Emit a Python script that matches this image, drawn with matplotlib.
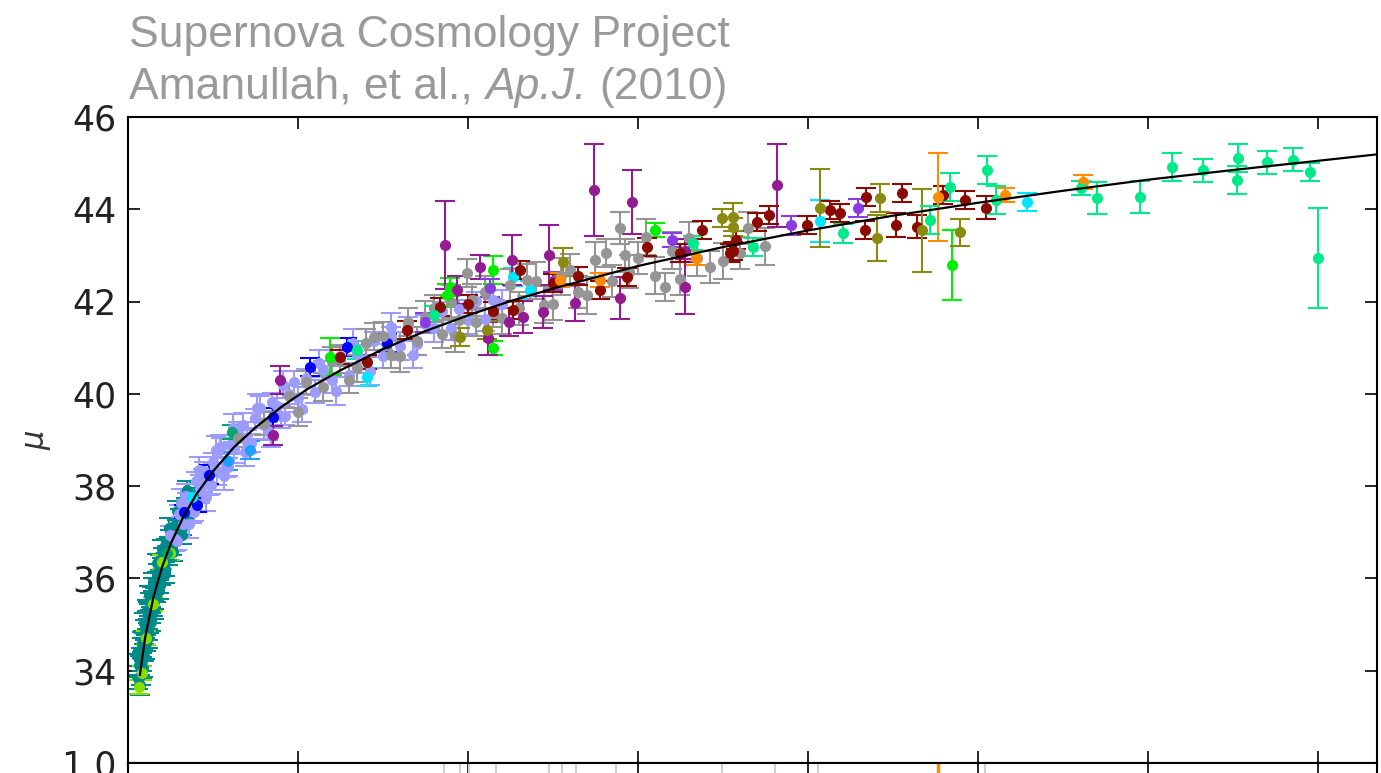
import numpy as np
import matplotlib
matplotlib.use('Agg')
import matplotlib.pyplot as plt

# best-fit distance modulus curve
curve_z = [0.014, 0.02, 0.03, 0.04, 0.05, 0.065, 0.08, 0.1, 0.125, 0.15, 0.18, 0.21,
           0.25, 0.3, 0.35, 0.4, 0.45, 0.5, 0.6, 0.7, 0.8, 0.9, 1.0, 1.1, 1.2, 1.3,
           1.4, 1.47]
curve_mu = [33.91, 34.70, 35.60, 36.24, 36.74, 37.33, 37.81, 38.32, 38.85, 39.27, 39.71,
            40.09, 40.51, 40.97, 41.36, 41.70, 42.01, 42.28, 42.77, 43.18, 43.54, 43.86,
            44.14, 44.40, 44.64, 44.85, 45.05, 45.19]

# low-z sample (teal)
teal_z = [0.012, 0.013, 0.014, 0.015, 0.015, 0.016, 0.017, 0.017, 0.018, 0.019,
          0.020, 0.021, 0.022, 0.023, 0.024, 0.025, 0.026, 0.027, 0.028, 0.029,
          0.030, 0.031, 0.032, 0.033, 0.035, 0.036, 0.038, 0.039, 0.041, 0.043,
          0.045, 0.047, 0.049, 0.052, 0.055, 0.058, 0.061, 0.064, 0.068, 0.072,
          0.076, 0.080, 0.084,
          0.0125, 0.0145, 0.016, 0.0175, 0.019, 0.0205, 0.022, 0.0235, 0.025, 0.027,
          0.029, 0.031, 0.034, 0.037, 0.040, 0.044, 0.048, 0.053, 0.058, 0.064,
          0.070]
teal_mu = [33.85, 33.70, 34.10, 33.90, 34.30, 34.05, 34.50, 34.20, 34.65, 34.40,
           34.90, 34.60, 35.10, 34.85, 35.30, 35.00, 35.50, 35.20, 35.65, 35.35,
           35.85, 35.50, 35.95, 35.65, 36.15, 35.85, 36.35, 36.00, 36.50, 36.20,
           36.70, 36.45, 36.90, 36.65, 37.15, 36.90, 37.35, 37.10, 37.60, 37.40,
           37.80, 37.60, 37.95,
           34.12, 33.69, 34.61, 34.06, 35.04, 34.46, 35.31, 34.70, 35.64, 35.06,
           35.92, 35.32, 36.33, 35.76, 36.64, 36.10, 37.10, 36.57, 37.47, 36.95,
           37.91]
teal_err = [0.25, 0.20, 0.22, 0.20, 0.20, 0.22, 0.20, 0.20, 0.20, 0.18,
            0.20, 0.18, 0.20, 0.18, 0.18, 0.18, 0.18, 0.17, 0.17, 0.17,
            0.17, 0.17, 0.16, 0.16, 0.16, 0.16, 0.16, 0.15, 0.15, 0.15,
            0.15, 0.15, 0.15, 0.15, 0.15, 0.15, 0.15, 0.15, 0.15, 0.15,
            0.15, 0.15, 0.15,
            0.25, 0.22, 0.22, 0.20, 0.22, 0.20, 0.22, 0.20, 0.20, 0.20,
            0.20, 0.20, 0.20, 0.20, 0.20, 0.20, 0.20, 0.20, 0.20, 0.20,
            0.20]

yg_z = [0.013, 0.016, 0.021, 0.029, 0.040, 0.050, 0.074]
yg_mu = [33.65, 33.95, 34.70, 35.45, 36.35, 36.55, 37.75]
yg_err = [0.15, 0.15, 0.15, 0.15, 0.15, 0.15, 0.15]

peri_z = [0.050, 0.055, 0.060, 0.065, 0.070, 0.075, 0.080, 0.085, 0.090, 0.095,
          0.100, 0.105, 0.110, 0.115, 0.120, 0.125, 0.130, 0.140, 0.150, 0.160,
          0.170, 0.180, 0.190, 0.200, 0.210, 0.220, 0.230, 0.240, 0.250, 0.260,
          0.270, 0.280, 0.290, 0.300, 0.310, 0.320, 0.330, 0.340, 0.350, 0.360,
          0.370, 0.380, 0.390, 0.400, 0.410, 0.420, 0.430, 0.440,
          0.058, 0.068, 0.078, 0.088, 0.098, 0.108, 0.118, 0.135, 0.145, 0.155,
          0.165, 0.175, 0.185, 0.195,
          0.062, 0.072, 0.083, 0.092, 0.103, 0.113, 0.123, 0.138, 0.152, 0.168,
          0.183, 0.205, 0.225, 0.245, 0.265, 0.285, 0.310, 0.335]
peri_mu = [36.94, 36.85, 37.40, 37.18, 37.66, 37.46, 38.11, 37.94, 38.32, 38.05,
           38.52, 38.33, 38.84, 38.45, 38.90, 38.80, 39.19, 38.96, 39.47, 39.32,
           39.82, 39.51, 39.99, 39.91, 40.34, 40.05, 40.51, 40.31, 40.81, 40.41,
           40.86, 40.75, 41.14, 40.82, 41.25, 41.03, 41.46, 41.09, 41.51, 41.43,
           41.80, 41.42, 41.84, 41.60, 42.01, 41.62, 42.04, 41.95,
           36.82, 37.79, 37.45, 38.12, 38.02, 38.85, 38.41, 39.33, 38.94, 39.70,
           39.20, 39.74, 39.52, 40.25,
           37.63, 37.17, 38.34, 37.77, 38.79, 38.21, 39.26, 38.73, 39.70, 39.14,
           40.20, 39.68, 40.66, 40.06, 41.11, 40.50, 41.45, 40.85]
peri_err = [0.20, 0.25, 0.20, 0.30, 0.20, 0.25, 0.20, 0.30, 0.20, 0.25,
            0.20, 0.30, 0.20, 0.25, 0.20, 0.30, 0.20, 0.25, 0.20, 0.30,
            0.20, 0.25, 0.20, 0.30, 0.20, 0.25, 0.20, 0.30, 0.20, 0.25,
            0.20, 0.30, 0.20, 0.25, 0.20, 0.30, 0.20, 0.25, 0.20, 0.30,
            0.20, 0.25, 0.20, 0.30, 0.20, 0.25, 0.20, 0.30,
            0.20, 0.25, 0.20, 0.25, 0.20, 0.25, 0.20, 0.25, 0.20, 0.25,
            0.20, 0.25, 0.20, 0.25,
            0.30, 0.30, 0.30, 0.30, 0.30, 0.30, 0.30, 0.30, 0.30, 0.30,
            0.30, 0.30, 0.30, 0.30, 0.30, 0.30, 0.30, 0.30]

blue_z = [0.066, 0.081, 0.095, 0.171, 0.214, 0.258, 0.305]
blue_mu = [37.45, 37.59, 38.25, 39.50, 40.58, 41.02, 41.10]
blue_err = [0.15, 0.15, 0.20, 0.20, 0.20, 0.20, 0.20]

dsb_z = [0.118, 0.143]
dsb_mu = [38.55, 38.78]
dsb_err = [0.20, 0.20]

cyan_z = [0.075, 0.281, 0.453, 0.473, 0.814, 1.058]
cyan_mu = [37.76, 40.36, 42.53, 42.25, 43.75, 44.16]
cyan_err = [0.15, 0.20, 0.20, 0.20, 0.45, 0.20]

sea_z = [0.046, 0.122]
sea_mu = [36.55, 39.17]
sea_err = [0.15, 0.15]

grey_z = [0.13, 0.16, 0.19, 0.21, 0.23, 0.25, 0.27, 0.28, 0.30, 0.31,
          0.33, 0.34, 0.36, 0.37, 0.38, 0.39, 0.399, 0.41, 0.42, 0.43,
          0.45, 0.46, 0.48, 0.50, 0.51, 0.53, 0.55, 0.563, 0.57, 0.579,
          0.59, 0.60, 0.61, 0.632, 0.64, 0.65, 0.67, 0.685, 0.72, 0.75,
          0.20, 0.24, 0.26, 0.29, 0.32, 0.35, 0.385, 0.405, 0.44, 0.47,
          0.49, 0.52, 0.54, 0.585, 0.62, 0.66, 0.70, 0.73]
grey_mu = [39.05, 39.35, 39.95, 40.25, 40.15, 40.75, 40.55, 41.10, 41.25, 40.85,
           41.55, 41.15, 41.85, 41.30, 42.00, 41.60, 42.62, 41.55, 42.20, 41.75,
           42.35, 41.85, 42.45, 41.95, 42.55, 42.20, 42.90, 43.05, 42.45, 43.60,
           42.65, 42.95, 43.40, 42.32, 43.10, 42.50, 42.95, 42.75, 43.05, 43.20,
           39.61, 40.71, 40.31, 41.24, 40.83, 41.66, 41.25, 42.03, 41.65, 42.47,
           41.93, 42.69, 42.14, 43.00, 42.56, 43.37, 42.88, 43.59]
grey_err = [0.20, 0.25, 0.25, 0.25, 0.30, 0.30, 0.30, 0.30, 0.30, 0.30,
            0.30, 0.30, 0.30, 0.30, 0.35, 0.30, 0.30, 0.30, 0.35, 0.30,
            0.35, 0.35, 0.40, 0.35, 0.40, 0.35, 0.40, 0.30, 0.35, 0.35,
            0.35, 0.35, 0.40, 0.30, 0.40, 0.35, 0.40, 0.35, 0.35, 0.40,
            0.30, 0.30, 0.30, 0.30, 0.35, 0.35, 0.35, 0.35, 0.35, 0.35,
            0.40, 0.35, 0.40, 0.35, 0.40, 0.35, 0.40, 0.35]

lime_z = [0.238, 0.376, 0.379, 0.429, 0.430, 0.620, 0.970]
lime_mu = [40.80, 42.14, 42.31, 41.00, 42.68, 43.55, 42.79]
lime_err = [0.40, 0.25, 0.20, 0.15, 0.30, 0.15, 0.76]

purple_z = [0.171, 0.179, 0.373, 0.387, 0.414, 0.424, 0.449, 0.452, 0.465, 0.488,
            0.496, 0.526, 0.549, 0.579, 0.593, 0.655, 0.655, 0.764]
purple_mu = [39.10, 40.30, 43.22, 42.25, 42.75, 41.20, 41.56, 42.90, 41.67, 41.77,
             43.00, 41.97, 44.42, 42.08, 44.16, 42.32, 43.10, 44.52]
purple_err = [0.20, 0.30, 0.95, 0.30, 0.25, 0.35, 0.30, 0.55, 0.35, 0.35,
              0.65, 0.40, 1.00, 0.45, 0.70, 0.60, 0.25, 0.90]

bv_z = [0.35, 0.426, 0.50, 0.64, 0.78, 0.859]
bv_mu = [41.55, 42.30, 42.45, 43.33, 43.65, 44.03]
bv_err = [0.20, 0.20, 0.20, 0.15, 0.20, 0.20]

dr_z = [0.249, 0.281, 0.328, 0.367, 0.40, 0.43, 0.453, 0.461, 0.50, 0.53,
        0.555, 0.587, 0.611, 0.65, 0.676, 0.708, 0.712, 0.716, 0.740, 0.755,
        0.799, 0.826, 0.838, 0.867, 0.869, 0.904, 0.911, 0.929, 0.959, 0.985,
        1.010]
dr_mu = [40.80, 40.69, 41.38, 41.88, 41.95, 41.80, 41.82, 42.68, 42.40, 42.55,
         42.25, 42.53, 43.18, 43.05, 43.55, 43.05, 43.10, 43.33, 43.72, 43.88,
         43.66, 43.98, 43.92, 43.55, 44.27, 43.66, 44.35, 43.62, 44.31, 44.20,
         44.03]
dr_err = [0.15, 0.15, 0.20, 0.20, 0.20, 0.20, 0.20, 0.20, 0.20, 0.20,
          0.20, 0.20, 0.20, 0.20, 0.20, 0.20, 0.20, 0.20, 0.20, 0.20,
          0.20, 0.20, 0.20, 0.20, 0.20, 0.25, 0.20, 0.25, 0.20, 0.20,
          0.25]

olive_z = [0.391, 0.422, 0.512, 0.699, 0.712, 0.712, 0.814, 0.881, 0.885, 0.935, 0.979]
olive_mu = [41.23, 41.38, 42.86, 43.81, 43.62, 43.83, 44.03, 43.38, 44.24, 43.55, 43.50]
olive_err = [0.20, 0.20, 0.30, 0.20, 0.20, 0.30, 0.85, 0.50, 0.30, 0.90, 0.30]

orange_z = [0.508, 0.555, 0.669, 0.953, 1.032, 1.124]
orange_mu = [42.47, 42.47, 42.94, 44.27, 44.31, 44.59]
orange_err = [0.15, 0.15, 0.15, 0.95, 0.15, 0.15]

sg_z = [0.27, 0.36, 0.665, 0.735, 0.841, 0.944, 0.967, 1.011, 1.022, 1.122,
        1.141, 1.191, 1.229, 1.265, 1.305, 1.306, 1.341, 1.371, 1.391, 1.401]
sg_mu = [40.95, 41.70, 43.27, 43.18, 43.48, 43.77, 44.48, 44.85, 44.20, 44.46,
         44.24, 44.26, 44.91, 44.85, 44.63, 45.11, 45.02, 45.07, 44.81, 42.94]
sg_err = [0.20, 0.20, 0.15, 0.20, 0.20, 0.30, 0.30, 0.30, 0.30, 0.15,
          0.35, 0.35, 0.30, 0.25, 0.30, 0.30, 0.25, 0.25, 0.20, 1.08]

# residual panel (only its top edge is in the picture)
res_z = [0.372, 0.391, 0.401, 0.433, 0.495, 0.511, 0.527, 0.574, 0.699, 0.762, 0.812, 1.009]
res_val = [0.6, 0.5, 0.7, 0.4, 0.5, 0.6, 0.3, 0.5, 0.4, 0.7, 0.5, 0.4]
res_err = [0.9, 0.6, 0.9, 0.7, 0.9, 0.6, 0.8, 0.6, 0.7, 0.9, 0.6, 0.7]
res_or_z = [0.953]
res_or_val = [0.13]
res_or_err = [0.95]

xticks = [0.0, 0.2, 0.4, 0.6, 0.8, 1.0, 1.2, 1.4]
yticks = [34, 36, 38, 40, 42, 44, 46]
res_ticks = [-1.0, -0.5, 0.0, 0.5, 1.0]

W, H = 1381, 773
fig = plt.figure(figsize=(W / 100, H / 100), dpi=100)
ax = fig.add_axes([128 / W, 10 / H, 1249 / W, 646 / H])
ax2 = fig.add_axes([128 / W, 10 / H - 0.3, 1249 / W, 0.3])


def draw(a, z, mu, err, color):
    a.errorbar(z, mu, yerr=err, fmt='o', color=color, mec=color, ms=7,
               capsize=7, elinewidth=1.5, capthick=1.5, zorder=2)


draw(ax, teal_z, teal_mu, teal_err, '#008b8b')
draw(ax, yg_z, yg_mu, yg_err, '#88dd00')
draw(ax, peri_z, peri_mu, peri_err, '#9c9cff')
draw(ax, blue_z, blue_mu, blue_err, 'blue')
draw(ax, dsb_z, dsb_mu, dsb_err, '#1e9fff')
draw(ax, cyan_z, cyan_mu, cyan_err, '#00e5ff')
draw(ax, sea_z, sea_mu, sea_err, '#00a870')
draw(ax, grey_z, grey_mu, grey_err, '#959595')
draw(ax, lime_z, lime_mu, lime_err, '#00ee00')
draw(ax, purple_z, purple_mu, purple_err, '#931c93')
draw(ax, bv_z, bv_mu, bv_err, '#8a3be2')
draw(ax, dr_z, dr_mu, dr_err, '#8b0a00')
draw(ax, olive_z, olive_mu, olive_err, '#8a8a10')
draw(ax, orange_z, orange_mu, orange_err, '#ff8c00')
draw(ax, sg_z, sg_mu, sg_err, '#00ea8a')

ax.plot(curve_z, curve_mu, color='black', lw=1.6, zorder=5)

ax2.errorbar(res_z, res_val, yerr=res_err, fmt='none', ecolor='#cfcfcf',
             elinewidth=1.5, capsize=7, capthick=1.5)
ax2.errorbar(res_or_z, res_or_val, yerr=res_or_err, fmt='none', ecolor='#ff8c00',
             elinewidth=2.5, capsize=7, capthick=1.5)

ax.set_xlim(0, 1.47)
ax.set_ylim(32, 46)
ax.set_xticks(xticks)
ax.set_yticks(yticks)
ax2.set_xlim(0, 1.47)
ax2.set_ylim(-1.0, 1.0)
ax2.set_xticks(xticks)
ax2.set_yticks(res_ticks)
ax2.set_yticklabels(['%.1f' % t for t in res_ticks])

for a in (ax, ax2):
    a.tick_params(direction='in', length=8.5, width=1.2, top=True, right=True,
                  labelbottom=False, labelsize=25, pad=8, labelcolor='#222222')
    for s in a.spines.values():
        s.set_linewidth(1.5)

# title, second line built from pieces so that only the journal is italic
tkw = dict(fontsize=32, color='#9a9a9a', family='Liberation Sans', ha='left', va='baseline')
fig.text(129 / W, 1 - 47 / H, 'Supernova Cosmology Project', **tkw)

renderer = fig.canvas.get_renderer()
probe1 = fig.text(0, 0, 'xx', **tkw)
probe2 = fig.text(0, 0, 'x x', **tkw)
space = probe2.get_window_extent(renderer).width - probe1.get_window_extent(renderer).width
probe1.remove()
probe2.remove()

x = 129.0
for piece, style in [('Amanullah, et al.,', 'normal'), ('Ap.J.', 'italic'), ('(2010)', 'normal')]:
    t = fig.text(x / W, 1 - 99 / H, piece, style=style, **tkw)
    x += t.get_window_extent(renderer).width + space

fig.text(37 / W, 1 - 440 / H, 'μ', rotation=90, fontsize=22, style='italic',
         color='#333333', ha='center', va='center')

fig.savefig('out.png', dpi=100)
